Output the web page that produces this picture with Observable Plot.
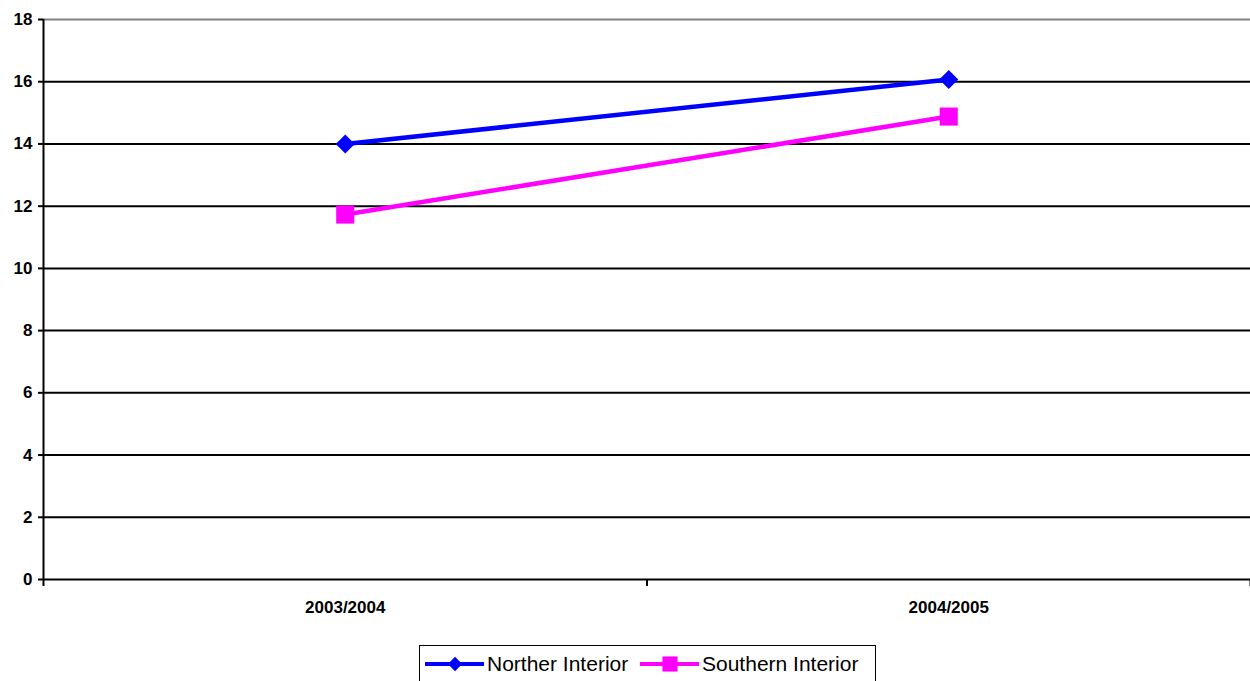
<!DOCTYPE html>
<html>
<head>
<meta charset="utf-8">
<script src="https://cdn.jsdelivr.net/npm/d3@7"></script>
<script src="https://cdn.jsdelivr.net/npm/@observablehq/plot@0.6"></script>
<style>
  body { margin: 0; background: #fff; font-family: "Liberation Sans", Arial, sans-serif; }
  #wrap { position: relative; width: 1250px; height: 681px; overflow: hidden; }
  #legend { position: absolute; left: 419px; top: 645px; width: 457px; height: 44px;
    border: 1.5px solid #000; background: #fff; box-sizing: border-box; }
  .item { position: absolute; top: 5px; display: flex; align-items: center; font-size: 21px; color: #000; white-space: nowrap; }
  .item svg { display: block; }
  #chart svg text { font-size: 17px; font-weight: bold; }
</style>
</head>
<body>
<div id="wrap">
  <div id="chart"></div>
  <div id="legend"></div>
</div>
<script>
const categories = ["2003/2004", "2004/2005"];
const seriesNames = ["Norther Interior", "Southern Interior"];
const northernValues = [14.0, 16.07];
const southernValues = [11.73, 14.88];
const yTicks = [0, 2, 4, 6, 8, 10, 12, 14, 16, 18];

const colors = ["#0000FF", "#FF00FF"];
const symbols = ["diamond2", "square"];
const radii = [8.6, 10.2];

const data = [];
categories.forEach((c, i) => {
  data.push({series: seriesNames[0], i, value: northernValues[i]});
  data.push({series: seriesNames[1], i, value: southernValues[i]});
});

const boundaries = d3.range(categories.length + 1).map(k => k - 0.5);
const font = "Liberation Sans, Arial, sans-serif";

const chart = Plot.plot({
  width: 1250,
  height: 630,
  marginLeft: 43,
  marginRight: 0,
  marginTop: 19,
  marginBottom: 51,
  style: {fontFamily: font, fontSize: "17px", fontWeight: "bold", color: "#000", background: "#fff", overflow: "visible"},
  x: {type: "linear", domain: [-0.5, categories.length - 0.5]},
  y: {domain: [0, 18]},
  color: {domain: seriesNames, range: colors},
  marks: [
    Plot.ruleY(yTicks.filter(t => t > 0 && t < 18), {stroke: "#000", strokeWidth: 2}),
    Plot.ruleY([18], {stroke: "#808080", strokeWidth: 2}),
    Plot.ruleY([0], {stroke: "#000", strokeWidth: 2}),
    Plot.ruleX([boundaries[0]], {y1: 0, y2: 18, stroke: "#000", strokeWidth: 2}),
    Plot.axisY({ticks: yTicks, tickSize: 5, tickPadding: 6, strokeWidth: 2, fontWeight: "bold", fontSize: 17, label: null}),
    Plot.axisX({ticks: boundaries, tickSize: 7, strokeWidth: 2, tickFormat: () => "", label: null}),
    Plot.axisX({ticks: d3.range(categories.length), tickSize: 0, tickPadding: 21, tickFormat: i => categories[i], fontWeight: "bold", fontSize: 17, label: null}),
    Plot.line(data, {x: "i", y: "value", z: "series", stroke: "series", strokeWidth: 4.5}),
    Plot.dot(data.filter(d => d.series === seriesNames[0]), {x: "i", y: "value", symbol: () => symbols[0], fill: colors[0], r: radii[0], stroke: "none"}),
    Plot.dot(data.filter(d => d.series === seriesNames[1]), {x: "i", y: "value", symbol: () => symbols[1], fill: colors[1], r: radii[1], stroke: "none"})
  ],
  symbol: {domain: symbols, range: symbols}
});
document.getElementById("chart").appendChild(chart);

// Legend
const legend = document.getElementById("legend");
const itemLefts = [5, 220];
seriesNames.forEach((name, k) => {
  const item = document.createElement("div");
  item.className = "item";
  item.style.left = itemLefts[k] + "px";
  const sw = d3.create("svg").attr("width", 62).attr("height", 26);
  sw.append("line").attr("x1", 0).attr("x2", 59).attr("y1", 13).attr("y2", 13)
    .attr("stroke", colors[k]).attr("stroke-width", 4);
  const sym = k === 0 ? d3.symbolDiamond2 : d3.symbolSquare;
  const size = k === 0 ? 130 : 230;
  sw.append("path").attr("d", d3.symbol(sym, size)()).attr("transform", "translate(30,13)").attr("fill", colors[k]);
  item.appendChild(sw.node());
  const t = document.createElement("span");
  t.textContent = name;
  item.appendChild(t);
  legend.appendChild(item);
});
</script>
</body>
</html>
